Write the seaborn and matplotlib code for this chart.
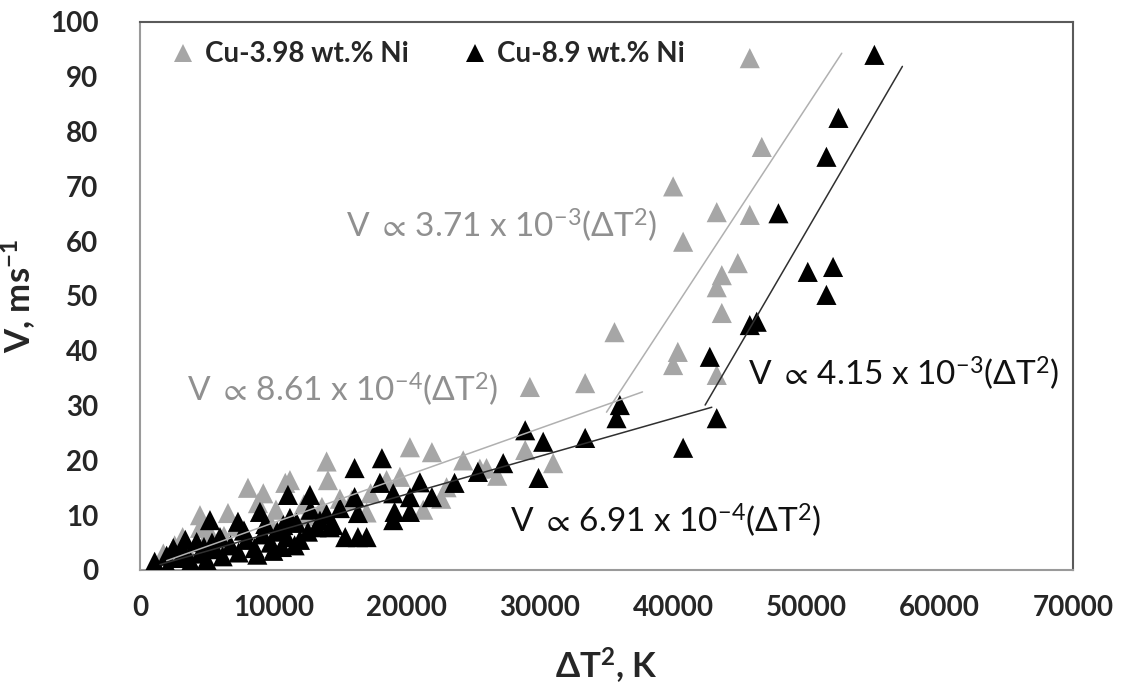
import numpy as np
import pandas as pd
import matplotlib
matplotlib.use("Agg")
import matplotlib.pyplot as plt
import seaborn as sns

# ---------------- data ----------------
series_names = ["Cu-3.98 wt.% Ni", "Cu-8.9 wt.% Ni"]

# Cu-3.98 wt.% Ni (grey triangles)
dT2_cu398 = [45750, 46650, 40000, 43270, 45750, 40750, 44850, 43650, 43270, 43650,
             35600, 40350, 40000, 43270, 29250, 33400, 28900, 31000, 20250, 21900,
             14000, 14100, 11250, 8100, 9250, 24250, 26000, 23000, 18500, 21250,
             4500, 6600, 15900, 1750, 13650, 10900, 8850, 4500,
             2600, 3200, 5200, 5800, 7200, 10200, 12300, 15000, 17300, 19500,
             22600, 25500, 26800, 3600, 6300, 9800, 12500, 17000]
v_cu398 = [93.4, 77.2, 70.0, 65.3, 64.8, 59.9, 56.0, 53.8, 51.6, 46.9,
           43.4, 39.8, 37.4, 35.6, 33.4, 34.1, 21.9, 19.5, 22.4, 21.5,
           19.8, 16.4, 16.4, 15.0, 14.0, 20.0, 18.6, 15.1, 16.4, 11.0,
           10.0, 10.4, 12.8, 3.0, 11.5, 15.9, 12.2, 7.7,
           4.5, 6.0, 7.0, 5.0, 8.0, 11.0, 12.0, 13.0, 14.0, 17.0,
           13.0, 18.5, 17.2, 3.3, 6.2, 8.5, 9.8, 10.5]

# Cu-8.9 wt.% Ni (black triangles)
dT2_cu89 = [55100, 52400, 51500, 47900, 50100, 52000, 51500, 45750, 46270, 42750,
            43270, 40750, 36000, 35750, 28900, 30250, 33400, 27250, 29900, 25350,
            23600, 21900, 21000, 18150, 18000, 16100, 20250, 19000, 19100, 19000,
            20250, 16100, 16350, 15000, 12750, 11100, 15400, 16350, 17000, 13250,
            14250, 11750, 11250, 10750, 10650, 5250, 7350, 9000, 1100, 2100,
            2500, 3400, 4250,
            3000, 3800, 4500, 5000, 5600, 6200, 6800, 7400, 8000, 8600,
            9200, 9800, 10300, 11000, 12000, 12600, 13500, 14500, 6000, 7800,
            4800, 5400, 8800, 10000, 11600, 12800, 14000, 3300, 2000, 9400]
v_cu89 = [94.0, 82.5, 75.4, 65.1, 54.4, 55.3, 50.2, 44.7, 45.3, 38.9,
          27.7, 22.3, 30.1, 27.7, 25.5, 23.4, 24.1, 19.5, 16.8, 17.9,
          15.9, 13.3, 16.0, 20.4, 15.9, 18.6, 13.3, 14.0, 10.6, 9.1,
          10.6, 13.3, 10.4, 11.3, 13.7, 13.7, 6.0, 6.0, 6.0, 7.8,
          7.8, 8.6, 9.5, 8.2, 4.2, 9.1, 8.8, 10.6, 1.5, 0.6,
          4.0, 5.5, 5.1,
          2.2, 1.5, 3.0, 1.8, 3.8, 2.5, 4.5, 3.2, 5.5, 4.0,
          6.5, 5.0, 7.0, 6.0, 5.5, 7.0, 9.0, 8.2, 6.0, 7.2,
          4.2, 5.0, 2.8, 3.5, 4.5, 11.0, 10.2, 3.2, 2.6, 8.4]

# fitted trend segments (end points)
fit_gray_low_x, fit_gray_low_v = [2000, 37700], [1.7, 32.5]
fit_gray_high_x, fit_gray_high_v = [35000, 52650], [28.8, 94.3]
fit_black_low_x, fit_black_low_v = [1500, 42900], [1.0, 29.7]
fit_black_high_x, fit_black_high_v = [42400, 57200], [30.1, 91.9]

x_ticks = [0, 10000, 20000, 30000, 40000, 50000, 60000, 70000]
y_ticks = [0, 10, 20, 30, 40, 50, 60, 70, 80, 90, 100]

GREY = "#a6a6a6"
BLACK = "#000000"

# ---------------- figure ----------------
sns.set_theme(style="white")
plt.rcParams["font.family"] = ["Lato", "DejaVu Sans"]
plt.rcParams["mathtext.fontset"] = "custom"
plt.rcParams["mathtext.rm"] = "Lato"
plt.rcParams["mathtext.it"] = "Lato:italic"
plt.rcParams["mathtext.bf"] = "Lato:bold"
plt.rcParams["mathtext.sf"] = "Lato"
plt.rcParams["mathtext.fallback"] = "stixsans"

fig = plt.figure(figsize=(11.23, 6.93), dpi=100)
ax = fig.add_axes([140 / 1123, 1 - 570 / 693, (1073 - 140) / 1123, (570 - 22) / 693])

df = pd.concat([
    pd.DataFrame({"dT2": dT2_cu398, "V": v_cu398, "alloy": series_names[0]}),
    pd.DataFrame({"dT2": dT2_cu89, "V": v_cu89, "alloy": series_names[1]}),
], ignore_index=True)

sns.scatterplot(data=df, x="dT2", y="V", hue="alloy", style="alloy",
                markers={series_names[0]: "^", series_names[1]: "^"},
                palette={series_names[0]: GREY, series_names[1]: BLACK},
                s=210, linewidth=0, ax=ax, zorder=3)

ax.plot(fit_gray_low_x, fit_gray_low_v, color="#b0b0b0", lw=1.1, zorder=4)
ax.plot(fit_gray_high_x, fit_gray_high_v, color="#b0b0b0", lw=1.1, zorder=4)
ax.plot(fit_black_low_x, fit_black_low_v, color="#303030", lw=1.1, zorder=4)
ax.plot(fit_black_high_x, fit_black_high_v, color="#303030", lw=1.1, zorder=4)

ax.set_xlim(0, 70000)
ax.set_ylim(0, 100)
ax.set_xticks(x_ticks)
ax.set_yticks(y_ticks)
ax.set_xticklabels([str(t) for t in x_ticks], fontsize=20, fontweight="bold")
ax.set_yticklabels([str(t) for t in y_ticks], fontsize=20, fontweight="bold")
ax.tick_params(axis="both", length=0)
ax.tick_params(axis="x", pad=18)
ax.tick_params(axis="y", pad=30)

ax.set_xlabel(r"ΔT$^{\mathbf{2}}$, K", fontsize=25, fontweight="bold", labelpad=18)
ax.set_ylabel(r"V, ms$^{\mathbf{-1}}$", fontsize=25, fontweight="bold", labelpad=8)

for side in ["left", "bottom"]:
    ax.spines[side].set_color("#9a9a9a")
    ax.spines[side].set_linewidth(1.5)
for side in ["top", "right"]:
    ax.spines[side].set_color("#5a5a5a")
    ax.spines[side].set_linewidth(1.5)
    ax.spines[side].set_visible(True)

# annotations
ax.text(38800, 63.0, r"V ${\propto}\,$3.71 x 10$^{-3}$(ΔT$^{2}$)", color="#909090",
        fontsize=24, ha="right", va="center")
ax.text(3500, 33.0, r"V ${\propto}\,$8.61 x 10$^{-4}$(ΔT$^{2}$)", color="#909090",
        fontsize=24, ha="left", va="center")
ax.text(45600, 36.0, r"V ${\propto}\,$4.15 x 10$^{-3}$(ΔT$^{2}$)", color="#111111",
        fontsize=24, ha="left", va="center")
ax.text(27750, 9.1, r"V ${\propto}\,$6.91 x 10$^{-4}$(ΔT$^{2}$)", color="#111111",
        fontsize=24, ha="left", va="center")

leg = ax.legend(loc="upper left", ncol=2, frameon=False, fontsize=20,
                handletextpad=-0.2, columnspacing=1.4, borderaxespad=0.3,
                markerscale=0.85, bbox_to_anchor=(-0.005, 1.0))
for t in leg.get_texts():
    t.set_fontweight("bold")

fig.savefig("out.png", dpi=100)
